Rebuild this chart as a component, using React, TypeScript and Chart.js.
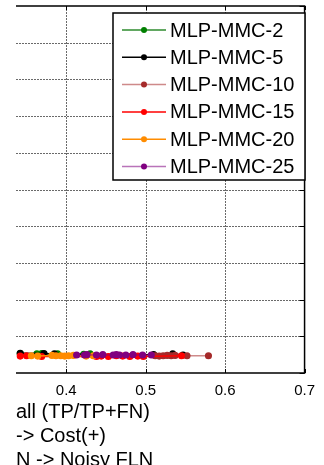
import React, { useEffect, useRef } from "react";
import { Chart, registerables } from "chart.js";

Chart.register(...registerables);

const seriesNames = ["MLP-MMC-2", "MLP-MMC-5", "MLP-MMC-10", "MLP-MMC-15", "MLP-MMC-20", "MLP-MMC-25"];
const pointColors = ["#008000", "#000000", "#a52a2a", "#ff0000", "#ff8c00", "#800080"];
const lineColors = ["#2e8b2e", "#000000", "rgba(165,42,42,0.55)", "#ff0000", "#ff8c00", "rgba(128,0,128,0.55)"];

const recall2 = [0.342, 0.363, 0.369, 0.389, 0.422, 0.43];
const precision2 = [0.053, 0.052, 0.053, 0.052, 0.051, 0.052];
const recall5 = [0.342, 0.372, 0.385, 0.51, 0.534, 0.547];
const precision5 = [0.054, 0.053, 0.052, 0.05, 0.052, 0.049];
const recall10 = [0.512, 0.517, 0.522, 0.527, 0.532, 0.537, 0.552, 0.579];
const precision10 = [0.047, 0.046, 0.047, 0.048, 0.047, 0.048, 0.047, 0.047];
const recall15 = [0.342, 0.35, 0.369, 0.438, 0.444, 0.453, 0.463, 0.471, 0.48, 0.49, 0.497, 0.545];
const precision15 = [0.046, 0.047, 0.045, 0.045, 0.046, 0.045, 0.047, 0.046, 0.045, 0.046, 0.045, 0.047];
const recall20 = [0.356, 0.364, 0.382, 0.387, 0.393, 0.398, 0.403, 0.409, 0.425, 0.434];
const precision20 = [0.047, 0.046, 0.048, 0.047, 0.047, 0.046, 0.047, 0.048, 0.046, 0.047];
const recall25 = [0.413, 0.423, 0.426, 0.438, 0.446, 0.459, 0.463, 0.467, 0.475, 0.484, 0.496, 0.507];
const precision25 = [0.049, 0.049, 0.05, 0.049, 0.05, 0.049, 0.05, 0.049, 0.049, 0.05, 0.049, 0.049];

const recalls = [recall2, recall5, recall10, recall15, recall20, recall25];
const precisions = [precision2, precision5, precision10, precision15, precision20, precision25];

const xTicks = [0.4, 0.5, 0.6, 0.7];
const xMin = 0.3367;
const xMax = 0.7;
const yMin = 0;
const yMax = 1;
const yStep = 0.1;
const titleLines = ["all (TP/TP+FN)", "-> Cost(+)", "N -> Noisy FLN"];

const FONT = "'Liberation Sans', Arial, sans-serif";
const GRID = "#6a6a6a";

export default function App() {
  const ref = useRef<HTMLCanvasElement | null>(null);

  useEffect(() => {
    document.body.style.margin = "0";
    const canvas = ref.current;
    if (!canvas) return;

    const datasets = seriesNames.map((name, i) => ({
      label: name,
      data: recalls[i].map((x, j) => ({ x, y: precisions[i][j] })),
      borderColor: lineColors[i],
      backgroundColor: pointColors[i],
      pointBackgroundColor: pointColors[i],
      pointBorderColor: pointColors[i],
      pointRadius: 2.8,
      borderWidth: 1.5,
      showLine: true,
      fill: false,
      tension: 0,
      order: seriesNames.length - i,
    }));

    const gridPlugin = {
      id: "dottedGrid",
      beforeDatasetsDraw(chart: any) {
        const ctx = chart.ctx;
        const a = chart.chartArea;
        const xs = chart.scales.x;
        const ys = chart.scales.y;
        ctx.save();
        ctx.strokeStyle = GRID;
        ctx.lineWidth = 1;
        ctx.setLineDash([2, 1]);
        ctx.beginPath();
        xTicks.forEach((v) => {
          if (v >= xMax - 1e-9) return;
          const px = Math.round(xs.getPixelForValue(v)) + 0.5;
          ctx.moveTo(px, a.top);
          ctx.lineTo(px, a.bottom);
        });
        for (let k = 1; yMin + k * yStep < yMax - 1e-9; k++) {
          const py = Math.round(ys.getPixelForValue(yMin + k * yStep)) + 0.5;
          ctx.moveTo(a.left, py);
          ctx.lineTo(a.right, py);
        }
        ctx.stroke();
        ctx.restore();
      },
    };

    const framePlugin = {
      id: "frame",
      afterDraw(chart: any) {
        const ctx = chart.ctx;
        const a = chart.chartArea;
        const xs = chart.scales.x;
        const ys = chart.scales.y;
        ctx.save();
        ctx.setLineDash([]);
        ctx.strokeStyle = "#000";
        ctx.lineWidth = 1.5;
        ctx.beginPath();
        ctx.moveTo(a.left, a.top);
        ctx.lineTo(a.right, a.top);
        ctx.lineTo(a.right, a.bottom);
        ctx.lineTo(a.left, a.bottom);
        ctx.stroke();
        ctx.lineWidth = 1;
        ctx.beginPath();
        xTicks.forEach((v) => {
          const px = Math.round(xs.getPixelForValue(v)) + 0.5;
          ctx.moveTo(px, a.top);
          ctx.lineTo(px, a.top + 4);
          ctx.moveTo(px, a.bottom);
          ctx.lineTo(px, a.bottom - 4);
        });
        for (let k = 0; yMin + k * yStep <= yMax + 1e-9; k++) {
          const py = Math.round(ys.getPixelForValue(yMin + k * yStep)) + 0.5;
          ctx.moveTo(a.right, py);
          ctx.lineTo(a.right - 5, py);
        }
        ctx.stroke();

        // x axis title lines
        ctx.fillStyle = "#000";
        ctx.font = "20px " + FONT;
        ctx.textAlign = "left";
        ctx.textBaseline = "middle";
        titleLines.forEach((t, i) => {
          ctx.fillText(t, a.left, a.bottom + 39 + i * 24);
        });

        // legend
        const lx = 113, ly = 13, lw = 192, lh = 167;
        ctx.fillStyle = "#fff";
        ctx.fillRect(lx, ly, lw, lh);
        ctx.strokeStyle = "#000";
        ctx.lineWidth = 1.5;
        ctx.strokeRect(lx, ly, lw, lh);
        chart.data.datasets.forEach((ds: any, i: number) => {
          const cy = ly + 17 + i * 27.3;
          ctx.strokeStyle = ds.borderColor;
          ctx.lineWidth = 1.5;
          ctx.beginPath();
          ctx.moveTo(lx + 9, cy);
          ctx.lineTo(lx + 53, cy);
          ctx.stroke();
          ctx.fillStyle = ds.pointBackgroundColor;
          ctx.beginPath();
          ctx.arc(lx + 31, cy, 3, 0, Math.PI * 2);
          ctx.fill();
          ctx.fillStyle = "#000";
          ctx.font = "20px " + FONT;
          ctx.textBaseline = "middle";
          ctx.fillText(ds.label, lx + 57, cy + 1);
        });
        ctx.restore();
      },
    };

    const chart = new Chart(canvas, {
      type: "line",
      data: { datasets },
      options: {
        animation: false,
        responsive: false,
        devicePixelRatio: 1,
        layout: { padding: { left: 16, top: 6, right: 0, bottom: 0 } },
        plugins: { legend: { display: false }, tooltip: { enabled: false } },
        scales: {
          x: {
            type: "linear",
            min: xMin,
            max: xMax,
            afterFit: (s: any) => {
              s.height = 92;
            },
            afterBuildTicks: (s: any) => {
              s.ticks = xTicks.map((v) => ({ value: v }));
            },
            ticks: {
              color: "#000",
              font: { family: FONT, size: 15 },
              padding: 9,
              callback: (v: any) => String(v),
            },
            grid: { display: false, drawTicks: false },
            border: { display: false },
          },
          y: {
            type: "linear",
            position: "right",
            min: yMin,
            max: yMax,
            afterFit: (s: any) => {
              s.width = 13;
            },
            ticks: { display: false, stepSize: yStep },
            grid: { display: false, drawTicks: false },
            border: { display: false },
          },
        },
      },
      plugins: [gridPlugin, framePlugin],
    });

    return () => chart.destroy();
  }, []);

  return (
    <div style={{ width: 324, height: 465 }}>
      <canvas ref={ref} width={324} height={465} />
    </div>
  );
}
